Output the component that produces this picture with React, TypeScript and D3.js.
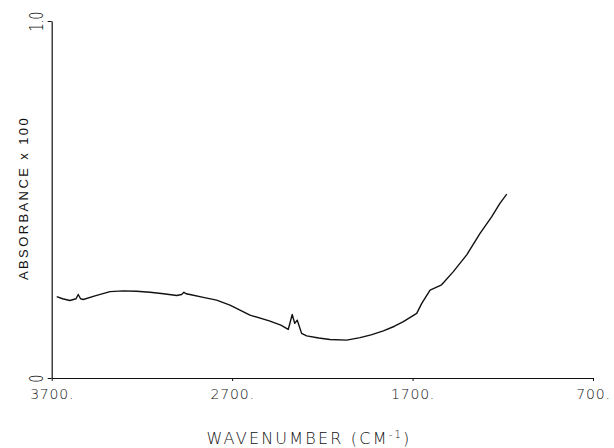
import * as d3 from "d3";
import { useRef, useEffect } from "react";

// spectrum (wavenumber cm-1, absorbance x 100)
const wavenumbers = [
  3672, 3640, 3599, 3565, 3553, 3540, 3525, 3460, 3377, 3303, 3230, 3155, 3080,
  3007, 2980, 2967, 2955, 2934, 2860, 2786, 2712, 2601, 2494, 2430, 2389, 2367,
  2353, 2339, 2315, 2287, 2220, 2158, 2065, 1991, 1930, 1862, 1800, 1751, 1677,
  1649, 1603, 1539, 1474, 1400, 1326, 1261, 1216, 1178
];
const absorbance = [
  0.228, 0.222, 0.217, 0.222, 0.234, 0.222, 0.22, 0.23, 0.242, 0.244, 0.243,
  0.24, 0.236, 0.231, 0.234, 0.24, 0.236, 0.234, 0.226, 0.218, 0.204, 0.176,
  0.16, 0.148, 0.136, 0.178, 0.153, 0.162, 0.125, 0.118, 0.112, 0.108, 0.106,
  0.113, 0.121, 0.132, 0.145, 0.158, 0.181, 0.209, 0.246, 0.261, 0.298, 0.345,
  0.405, 0.452, 0.489, 0.515
];
const xTicks = [3700, 2700, 1700, 700];
const yTicks = [0, 1];

const width = 614;
const height = 448;
const left = 51.7;
const right = 593;
const top = 21;
const bottom = 378;

export default function App() {
  const svgRef = useRef<SVGSVGElement>(null);

  useEffect(() => {
    const svg = d3.select(svgRef.current);
    const x = d3.scaleLinear().domain([3700, 700]).range([left, right]);
    const y = d3.scaleLinear().domain([0, 1]).range([bottom, top]);

    const xAxis = svg.select<SVGGElement>(".x-axis");
    xAxis.call(
      d3.axisBottom(x)
        .tickValues(xTicks)
        .tickSize(3)
        .tickSizeOuter(0)
        .tickFormat(d => `${d}.`)
    );
    xAxis.select(".domain").attr("stroke", "#111").attr("stroke-width", 1.2);
    xAxis.selectAll(".tick line").attr("stroke", "#111");
    xAxis
      .selectAll(".tick text")
      .attr("y", 16)
      .attr("dy", "0.35em")
      .attr("fill", "#111")
      .style("font-family", "'DejaVu Sans', sans-serif")
      .style("font-weight", 200)
      .style("font-size", "14px")
      .style("letter-spacing", "0.8px");

    const yAxis = svg.select<SVGGElement>(".y-axis");
    yAxis.call(
      d3.axisLeft(y)
        .tickValues(yTicks)
        .tickSize(4)
        .tickSizeOuter(0)
        .tickFormat(d => (d === 1 ? "1.0" : "0"))
    );
    yAxis.select(".domain").attr("stroke", "#111").attr("stroke-width", 1.2);
    yAxis.selectAll(".tick line").attr("stroke", "#111");
    yAxis
      .selectAll(".tick text")
      .attr("x", 0)
      .attr("y", -8.7)
      .attr("dy", 0)
      .attr("text-anchor", "middle")
      .attr("transform", "rotate(-90) scale(0.62,1)")
      .attr("fill", "#111")
      .style("font-family", "'DejaVu Sans', sans-serif")
      .style("font-weight", 200)
      .style("font-size", "20px");

    const line = d3
      .line<number>()
      .x((d, i) => x(wavenumbers[i]))
      .y(d => y(d));

    svg
      .select(".spectrum")
      .attr("d", line(absorbance))
      .attr("fill", "none")
      .attr("stroke", "#111")
      .attr("stroke-width", 1.4)
      .attr("stroke-linejoin", "round");
  }, []);

  return (
    <svg
      ref={svgRef}
      width={width}
      height={height}
      style={{ position: "absolute", left: 0, top: 0, background: "#fff" }}
    >
      <g className="x-axis" transform={`translate(0,${bottom})`} />
      <g className="y-axis" transform={`translate(${left},0)`} />
      <path className="spectrum" />
      <text
        transform="translate(28,198) rotate(-90)"
        textAnchor="middle"
        fill="#111"
        style={{ fontFamily: "'Liberation Sans', Arial, sans-serif", fontSize: 13, letterSpacing: 2.4 }}
      >
        ABSORBANCE x 100
      </text>
      <text
        x={309}
        y={444}
        textAnchor="middle"
        fill="#111"
        style={{ fontFamily: "'DejaVu Sans', sans-serif", fontWeight: 200, fontSize: 16, letterSpacing: 2.2 }}
      >
        WAVENUMBER (CM
        <tspan dy={-6} style={{ fontSize: 10 }}>-1</tspan>
        <tspan dy={6}>)</tspan>
      </text>
    </svg>
  );
}
